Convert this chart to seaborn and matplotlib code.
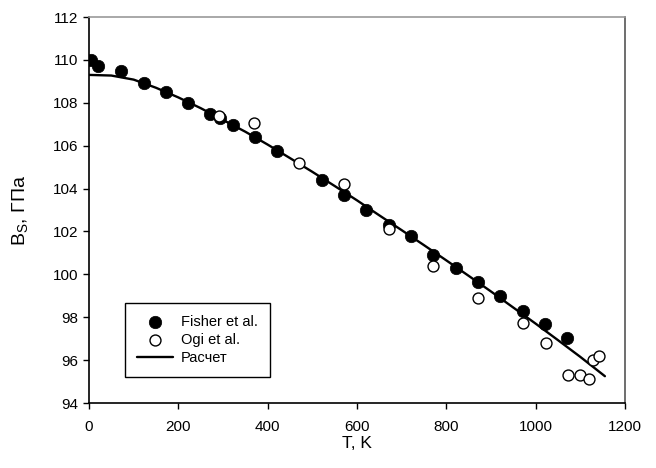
import matplotlib
matplotlib.use("Agg")
import matplotlib.pyplot as plt
import seaborn as sns
import pandas as pd

# Fisher et al. (filled)
fisher_T = [5, 20, 72, 123, 172, 222, 271, 293, 322, 372, 421, 521, 571, 620, 672, 721, 770, 822, 871, 920, 972, 1021, 1070]
fisher_B = [110.0, 109.7, 109.5, 108.9, 108.5, 108.0, 107.5, 107.3, 106.95, 106.4, 105.75, 104.4, 103.7, 103.0, 102.3, 101.8, 100.9, 100.3, 99.65, 99.0, 98.3, 97.7, 97.05]

# Ogi et al. (open)
ogi_T = [291, 369, 470, 571, 672, 770, 871, 972, 1023, 1072, 1099, 1119, 1128, 1142]
ogi_B = [107.4, 107.05, 105.2, 104.2, 102.1, 100.4, 98.9, 97.75, 96.8, 95.3, 95.3, 95.1, 96.0, 96.2]

# Расчет (line)
calc_T = [0, 50, 100, 150, 200, 250, 300, 350, 400, 450, 500, 550, 600, 650, 700, 750, 800, 850, 900, 950, 1000, 1050, 1100, 1155]
calc_B = [109.30, 109.27, 109.08, 108.70, 108.25, 107.75, 107.2, 106.65, 106.05, 105.42, 104.78, 104.12, 103.45, 102.75, 102.06, 101.36, 100.65, 99.93, 99.2, 98.45, 97.7, 96.93, 96.15, 95.25]

x_ticks = [0, 200, 400, 600, 800, 1000, 1200]
y_ticks = [94, 96, 98, 100, 102, 104, 106, 108, 110, 112]

sns.set_theme(style="ticks")
plt.rcParams['font.family'] = ['Liberation Sans', 'DejaVu Sans']
plt.rcParams['mathtext.fontset'] = 'custom'
plt.rcParams['mathtext.rm'] = 'Liberation Sans'
plt.rcParams['mathtext.it'] = 'Liberation Sans'
plt.rcParams['text.color'] = 'black'
plt.rcParams['axes.labelcolor'] = 'black'
plt.rcParams['xtick.color'] = 'black'
plt.rcParams['ytick.color'] = 'black'
plt.rcParams['xtick.labelcolor'] = 'black'
plt.rcParams['ytick.labelcolor'] = 'black'

fig = plt.figure(figsize=(6.56, 4.68), dpi=100)
ax = fig.add_axes([89/656, 1 - 403/468, 536/656, 386/468])

df_f = pd.DataFrame({"T": fisher_T, "B": fisher_B})
df_o = pd.DataFrame({"T": ogi_T, "B": ogi_B})
df_c = pd.DataFrame({"T": calc_T, "B": calc_B})

sns.lineplot(data=df_c, x="T", y="B", ax=ax, color="black", linewidth=1.7, label="Расчет", zorder=2)
sns.scatterplot(data=df_f, x="T", y="B", ax=ax, marker="o", s=80, color="black",
                edgecolor="black", linewidth=0.5, label="Fisher et al.", zorder=3)
sns.scatterplot(data=df_o, x="T", y="B", ax=ax, marker="o", s=62, facecolor="white",
                edgecolor="black", linewidth=1.0, label="Ogi et al.", zorder=4)

ax.set_xlim(0, 1200)
ax.set_ylim(94, 112)
ax.set_xticks(x_ticks)
ax.set_yticks(y_ticks)
ax.tick_params(axis='both', labelsize=11, length=4, width=1, color='black',
               labelcolor='black', direction='out', pad=4)
ax.tick_params(axis='x', pad=8)

for side in ['left', 'bottom']:
    ax.spines[side].set_color('black')
    ax.spines[side].set_linewidth(1.2)
ax.spines['top'].set_visible(True)
ax.spines['right'].set_visible(True)
ax.spines['top'].set_color('#9a9a9a')
ax.spines['right'].set_color('#555555')
ax.spines['top'].set_linewidth(1.2)
ax.spines['right'].set_linewidth(1.2)

ax.set_xlabel("T, K", fontsize=12.5, labelpad=2, color='black')
ax.set_ylabel(r"B$_{S}$, ГПа", fontsize=14, labelpad=16, color='black')

handles, labels = ax.get_legend_handles_labels()
order = [labels.index("Fisher et al."), labels.index("Ogi et al."), labels.index("Расчет")]
leg = ax.legend([handles[i] for i in order], [labels[i] for i in order],
                loc='lower left', bbox_to_anchor=(0.067, 0.067), borderaxespad=0,
                fontsize=10.5, frameon=True, fancybox=False, framealpha=1, edgecolor='black',
                borderpad=0.8, handlelength=2.5, handletextpad=0.55, labelspacing=0.3)
leg.get_frame().set_linewidth(1.0)
for t in leg.get_texts():
    t.set_color('black')

fig.savefig("out.png", dpi=100, facecolor="white")
